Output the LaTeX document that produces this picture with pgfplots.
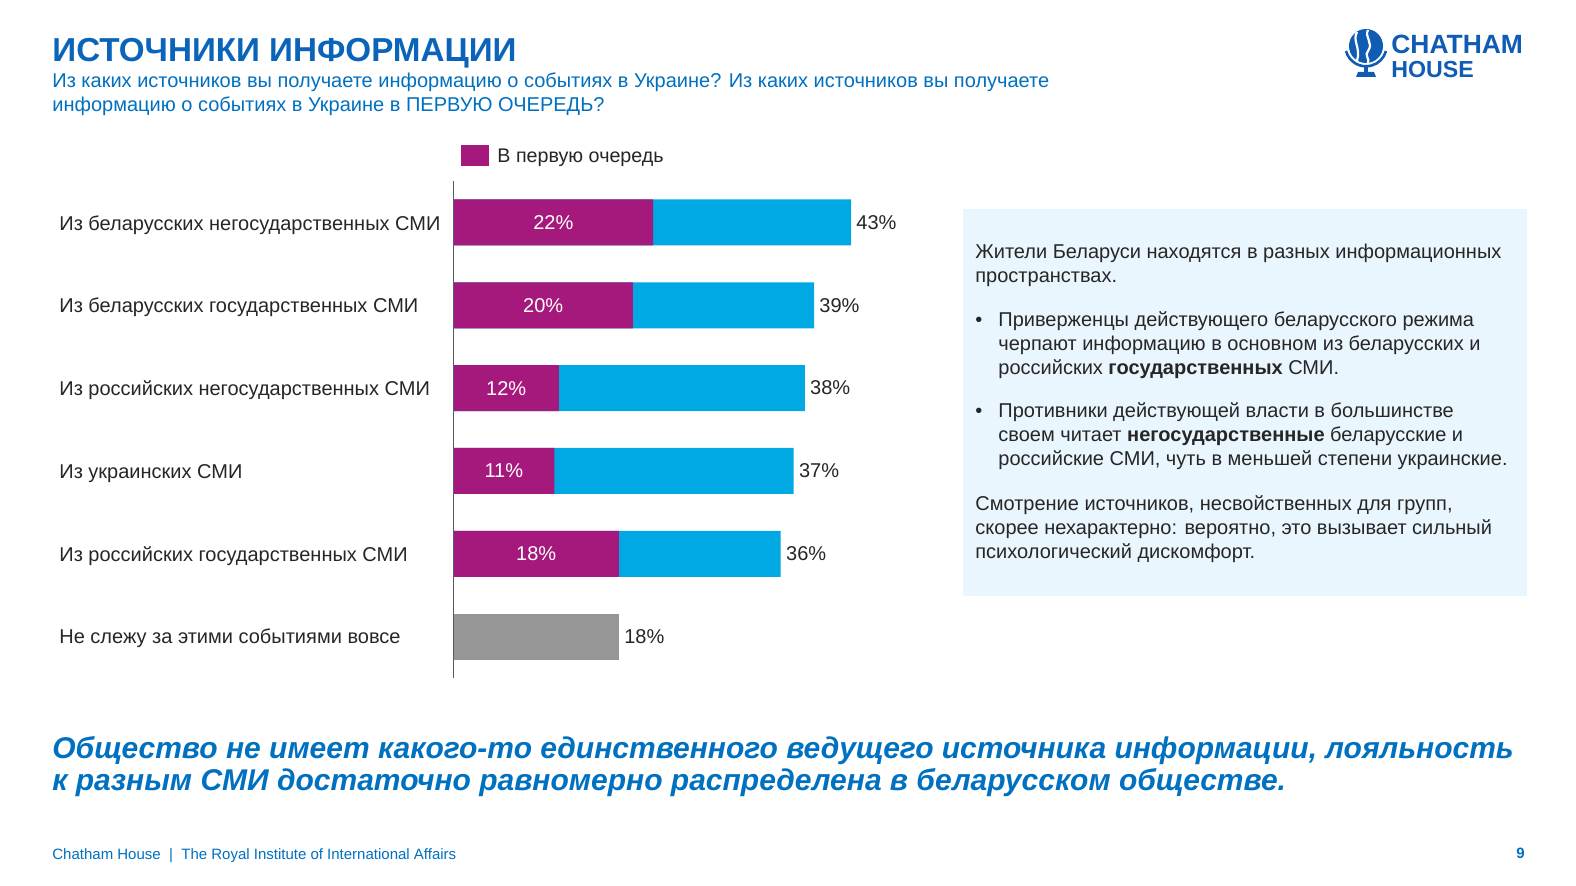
\documentclass[border=0pt]{standalone}
\usepackage{fontspec}
\setmainfont{Liberation Sans}
\usepackage{pgfplots}
\pgfplotsset{compat=1.18}
\usepackage{pgfplotstable}
\definecolor{cmag}{RGB}{166,25,124}
\definecolor{cblue}{RGB}{0,168,228}
\definecolor{cgray}{RGB}{150,150,150}
\definecolor{tdark}{RGB}{38,38,38}
\definecolor{axgray}{RGB}{89,89,89}
\definecolor{titleblue}{RGB}{10,100,185}
\definecolor{subblue}{RGB}{0,112,192}
\definecolor{logoblue}{RGB}{16,92,180}
\definecolor{boxbg}{RGB}{234,246,253}
\newcommand\fs[1]{\fontsize{#1}{#1}\selectfont}

\pgfplotstableread{
y total first tl fl
0 43   21.6 43 22
1 39   19.4 39 20
2 38   11.4 38 12
3 36.8 10.9 37 11
4 35.4 17.9 36 18
}\mediatable
\pgfplotstableread{
y total tl
5 17.9 18
}\nonetable

\begin{document}
\begin{tikzpicture}[x=0.5pt,y=0.5pt]
\fill[white] (0,0) rectangle (1576,-886);

% title block
\node[anchor=base west, inner sep=0, text=titleblue, font=\fs{16.6}\bfseries] at (52,-61.5) {ИСТОЧНИКИ ИНФОРМАЦИИ};
\node[anchor=base west, inner sep=0, text=subblue, font=\fs{10}] at (52,-88) {Из каких источников вы получаете информацию о событиях в Украине? Из каких источников вы получаете};
\node[anchor=base west, inner sep=0, text=subblue, font=\fs{10}] at (52,-111.5) {информацию о событиях в Украине в ПЕРВУЮ ОЧЕРЕДЬ?};

% logo
\fill[logoblue] (1366,-46) circle (17);
\draw[white, line width=1.1pt] (1357,-32) .. controls (1352,-41) and (1361,-47) .. (1357,-61);
\draw[white, line width=1.1pt] (1368,-30) .. controls (1364,-37) and (1374,-43) .. (1368,-51) .. controls (1364,-55) and (1370,-59) .. (1368,-63);
\draw[logoblue, line width=1.3pt] (1346,-51) arc[start angle=195, end angle=345, radius=20.7];
\draw[logoblue, line width=1.6pt] (1366,-66) -- (1366,-73);
\fill[logoblue] (1358,-72) -- (1374,-72) -- (1376,-77) -- (1356,-77) -- cycle;
\node[anchor=base west, inner sep=0, text=logoblue, font=\fs{13.2}\bfseries] at (1391,-53.5) {CHATHAM};
\node[anchor=base west, inner sep=0, text=logoblue, font=\fs{11.6}\bfseries] at (1391,-78) {HOUSE};

% legend
\fill[cmag] (461,-145) rectangle (489,-166);
\node[anchor=base west, inner sep=0, text=tdark, font=\fs{9.85}] at (497,-163) {В первую очередь};

% category labels
\foreach \yy/\lab in {222.3/Из беларусских негосударственных СМИ, 305/Из беларусских государственных СМИ, 388/Из российских негосударственных СМИ, 471/Из украинских СМИ, 553.3/Из российских государственных СМИ, 636/Не слежу за этими событиями вовсе}
  \node[anchor=base west, inner sep=0, text=tdark, font=\fs{10}] at (59,-\yy-8) {\lab};

\begin{axis}[at={(226.75pt,-339pt)}, anchor=south west, scale only axis,
  width=198.75pt, height=248.5pt,
  xmin=0, xmax=43, ymin=-0.5, ymax=5.5, y dir=reverse,
  axis x line=none, axis y line*=left,
  y axis line style={-, draw=axgray, line width=0.8pt},
  ytick=\empty, xtick=\empty, clip=false,
  /pgf/number format/assume math mode=true]
\addplot[xbar, bar width=23pt, bar shift=0pt, fill=cblue, draw=none,
  point meta=explicit,
  nodes near coords={\pgfmathprintnumber[fixed,precision=0]{\pgfplotspointmeta}\%},
  nodes near coords style={font=\fs{10}, text=tdark, anchor=west, inner sep=2.5pt}]
  table[x=total, y=y, meta=tl]{\mediatable};
\addplot[xbar, bar width=23pt, bar shift=0pt, fill=cmag, draw=none]
  table[x=first, y=y]{\mediatable};
\addplot[draw=none, mark=none, point meta=explicit,
  nodes near coords={\pgfmathprintnumber[fixed,precision=0]{\pgfplotspointmeta}\%},
  nodes near coords style={font=\fs{10}, text=white, anchor=center, inner sep=0pt}]
  table[x expr=\thisrow{first}/2, y=y, meta=fl]{\mediatable};
\addplot[xbar, bar width=23pt, bar shift=0pt, fill=cgray, draw=none,
  point meta=explicit,
  nodes near coords={\pgfmathprintnumber[fixed,precision=0]{\pgfplotspointmeta}\%},
  nodes near coords style={font=\fs{10}, text=tdark, anchor=west, inner sep=2.5pt}]
  table[x=total, y=y, meta=tl]{\nonetable};
\end{axis}

% info box
\fill[boxbg] (963,-209) rectangle (1527,-596);
\begin{scope}[every node/.style={anchor=base west, inner sep=0, text=tdark, font=\fs{10}}]
\node at (975,-259) {Жители Беларуси находятся в разных информационных};
\node at (975,-283) {пространствах.};
\node at (975,-327) {•};
\node at (998,-327) {Приверженцы действующего беларусского режима};
\node at (998,-351) {черпают информацию в основном из беларусских и};
\node at (998,-375) {российских \textbf{государственных} СМИ.};
\node at (975,-418) {•};
\node at (998,-418) {Противники действующей власти в большинстве};
\node at (998,-442) {своем читает \textbf{негосударственные} беларусские и};
\node at (998,-466) {российские СМИ, чуть в меньшей степени украинские.};
\node at (975,-511) {Смотрение источников, несвойственных для групп,};
\node at (975,-535) {скорее нехарактерно: вероятно, это вызывает сильный};
\node at (975,-559) {психологический дискомфорт.};
\end{scope}

% conclusion
\node[anchor=base west, inner sep=0, text=subblue, font=\fs{15}\bfseries\itshape] at (52,-759) {Общество не имеет какого-то единственного ведущего источника информации, лояльность};
\node[anchor=base west, inner sep=0, text=subblue, font=\fs{15}\bfseries\itshape] at (52,-791) {к разным СМИ достаточно равномерно распределена в беларусском обществе.};

% footer
\node[anchor=base west, inner sep=0, text=subblue, font=\fs{7.5}] at (52,-860) {Chatham House \ | \ The Royal Institute of International Affairs};
\node[anchor=base east, inner sep=0, text=subblue, font=\fs{7.5}\bfseries] at (1525,-859) {9};
\end{tikzpicture}
\end{document}
